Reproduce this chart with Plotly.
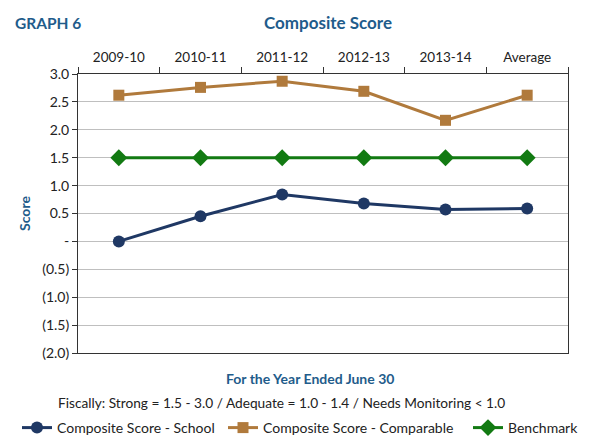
import plotly.graph_objects as go

# Data
years = ["2009-10", "2010-11", "2011-12", "2012-13", "2013-14", "Average"]
school = [0.0, 0.45, 0.84, 0.68, 0.57, 0.59]
comparable = [2.62, 2.76, 2.87, 2.69, 2.17, 2.62]
benchmark = [1.5, 1.5, 1.5, 1.5, 1.5, 1.5]

tick_vals = [3.0, 2.5, 2.0, 1.5, 1.0, 0.5, 0.0, -0.5, -1.0, -1.5, -2.0]
tick_text = ["3.0", "2.5", "2.0", "1.5", "1.0", "0.5", "-", "(0.5)", "(1.0)", "(1.5)", "(2.0)"]

FONT = "Lato"
BLUE = "#1F5C8B"
W, H = 596, 446
OFF = 8  # page body margin shifts the figure by 8px
# plot area wanted on screen: x 78..568, y 74..353
L, T = 78 - OFF, 74 - OFF
R, B = W - (568 - OFF), H - (353 - OFF)
pw, ph = W - L - R, H - T - B


def px_x(x):
    return (x - OFF - L) / pw


def px_y(y):
    return (H - B - (y - OFF)) / ph


fig = go.Figure()
fig.add_trace(go.Scatter(x=years, y=school, name="Composite Score - School", mode="lines+markers",
                         line=dict(color="#1F3864", width=3), legend="legend",
                         marker=dict(symbol="circle", size=12, color="#1F3864")))
fig.add_trace(go.Scatter(x=years, y=comparable, name="Composite Score - Comparable", mode="lines+markers",
                         line=dict(color="#B07A3C", width=3), legend="legend2",
                         marker=dict(symbol="square", size=11, color="#B07A3C")))
fig.add_trace(go.Scatter(x=years, y=benchmark, name="Benchmark", mode="lines+markers",
                         line=dict(color="#127A12", width=3), legend="legend3",
                         marker=dict(symbol="diamond", size=13, color="#127A12")))

leg = dict(orientation="h", xref="container", yref="container", xanchor="left", yanchor="middle",
           y=1 - (428 - OFF) / H, font=dict(size=14, color="#222222"), itemwidth=30,
           bgcolor="rgba(0,0,0,0)")

fig.update_layout(
    width=W, height=H,
    margin=dict(l=L, r=R, t=T, b=B),
    paper_bgcolor="white", plot_bgcolor="white",
    font=dict(family=FONT, size=13, color="#222222"),
    showlegend=True,
    legend=dict(leg, x=(17 - OFF) / W),
    legend2=dict(leg, x=(223 - OFF) / W),
    legend3=dict(leg, x=(468 - OFF) / W),
    xaxis=dict(type="category", side="top", showline=True, linecolor="#333333", linewidth=1,
               mirror=True, ticks="outside", tickson="boundaries", ticklen=6, tickcolor="#333333",
               ticklabelstandoff=6,
               showgrid=False, tickfont=dict(size=13.5, color="#222222"), range=[-0.5, 5.5],
               automargin=False),
    yaxis=dict(range=[-2.0, 3.0], tickvals=tick_vals, ticktext=tick_text, showline=True,
               linecolor="#333333", linewidth=1, mirror=True, ticks="outside", ticklen=5,
               tickcolor="#333333", showgrid=True, gridcolor="#BFBFBF", gridwidth=1,
               zeroline=False, tickfont=dict(size=14, color="#222222"), automargin=False,
               title=dict(text="<b>Score</b>", font=dict(size=14, color=BLUE), standoff=8)),
    annotations=[
        dict(text="<b>GRAPH 6</b>", x=px_x(13), y=px_y(23), xanchor="left", yanchor="middle",
             xref="paper", yref="paper", showarrow=False, font=dict(size=15.5, color=BLUE)),
        dict(text="<b>Composite Score</b>", x=px_x(328), y=px_y(23), xanchor="center", yanchor="middle",
             xref="paper", yref="paper", showarrow=False, font=dict(size=17, color=BLUE)),
        dict(text="<b>For the Year Ended June 30</b>", x=px_x(310), y=px_y(378), xanchor="center",
             yanchor="middle", xref="paper", yref="paper", showarrow=False,
             font=dict(size=14, color=BLUE)),
        dict(text="Fiscally: Strong = 1.5 - 3.0 / Adequate = 1.0 - 1.4 / Needs Monitoring < 1.0",
             x=px_x(281), y=px_y(402), xanchor="center", yanchor="middle", xref="paper", yref="paper",
             showarrow=False, font=dict(size=13.7, color="#222222")),
    ],
)

fig.write_html("out.html")
